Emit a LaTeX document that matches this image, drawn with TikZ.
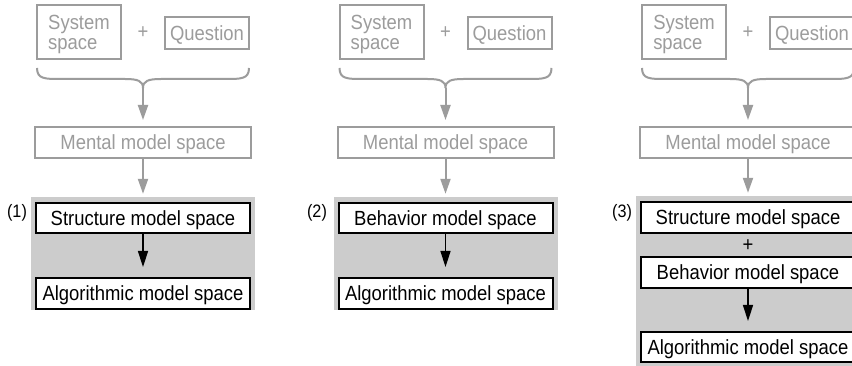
\documentclass[tikz,border=0pt]{standalone}
\usepackage{fontspec}
\setmainfont{Liberation Sans}[FakeStretch=0.9]
\usetikzlibrary{arrows.meta}
\definecolor{lg}{HTML}{9C9C9C}
\definecolor{bgc}{HTML}{CCCCCC}
\begin{document}
\begin{tikzpicture}[x=1pt,y=-1pt,
  txt/.style={font=\fontsize{20.5}{18}\selectfont},
  gbox/.style={txt, draw=lg, line width=2pt, text=lg, inner sep=0pt, align=left, text depth=0pt},
  kbox/.style={txt, draw=black, line width=2pt, fill=white, inner sep=0pt, minimum width=214pt, minimum height=30pt, text height=14.7pt, text depth=0pt},
  garrow/.style={draw=lg, line width=2pt, -{Triangle[length=15pt,width=10pt]}},
  karrow/.style={draw=black, line width=1.5pt, -{Triangle[length=16pt,width=10pt]}},
  lbl/.style={font=\fontsize{18}{18}\selectfont, inner sep=0pt},
  bgpanel/.style={fill=bgc, inner sep=0pt}]
\useasboundingbox (0,0) rectangle (852,366);
\fill[white] (0,0) rectangle (852,366);
% gray backgrounds
\node[bgpanel, minimum width=224pt, minimum height=113pt] (bg1) at (143,253.5) {};
\node[bgpanel, minimum width=224pt, minimum height=113pt] (bg2) at (445.5,253.5) {};
\node[bgpanel, minimum width=224pt, minimum height=174pt] (bg3) at (748,283) {};
% top parts
\foreach \i/\dx in {1/0,2/302.5,3/605}{
 \begin{scope}[xshift=\dx pt]
  \node[gbox, font=\fontsize{20.5}{20}\selectfont, minimum width=84pt, minimum height=54pt] (sys\i) at (79,32.5) {System\\space};
  \node[txt, text=lg, inner sep=0pt] (plus\i) at (143,33) {+};
  \node[gbox, minimum width=84pt, minimum height=32pt, text height=14.7pt] (q\i) at (207,33) {Question};
  \coordinate (bl\i) at (37,68);
  \coordinate (br\i) at (249,68);
  \coordinate (cusp\i) at (143,88);
  \draw[lg, line width=2pt] (bl\i) .. controls (37,79) and (45,79) .. (60,79) -- (125,79)
     .. controls (138,79) and (143,81) .. (cusp\i)
     .. controls (143,81) and (148,79) .. (161,79) -- (226,79)
     .. controls (241,79) and (249,79) .. (br\i);
  \node[gbox, minimum width=216pt, minimum height=31pt, text height=14.7pt] (mm\i) at (143,142.5) {Mental model space};
  \draw[garrow, shorten >=6pt] (cusp\i) -- (mm\i.north);
  \draw[garrow, shorten >=3pt] (mm\i.south) -- (bg\i.north -| mm\i.south);
 \end{scope}
}
% panel 1
\node[lbl] (l1) at (17,213) {(1)};
\node[kbox] (st1) at (143,218) {Structure model space};
\node[kbox, minimum height=31pt] (al1) at (143,293.5) {Algorithmic model space};
\draw[karrow, shorten >=10pt] (st1) -- (al1);
% panel 2
\node[lbl] (l2) at (317,213) {(2)};
\node[kbox] (be2) at (445.5,218) {Behavior model space};
\node[kbox, minimum height=31pt] (al2) at (445.5,293.5) {Algorithmic model space};
\draw[karrow, shorten >=10pt] (be2) -- (al2);
% panel 3
\node[lbl] (l3) at (622,213) {(3)};
\node[kbox, minimum height=31pt] (st3) at (748,217.5) {Structure model space};
\node[txt, inner sep=0pt] (p3) at (748,246) {+};
\node[kbox, minimum height=31pt] (be3) at (748,272.5) {Behavior model space};
\node[kbox] (al3) at (748,347) {Algorithmic model space};
\draw[karrow, shorten >=10pt] (be3) -- (al3);
\end{tikzpicture}
\end{document}
